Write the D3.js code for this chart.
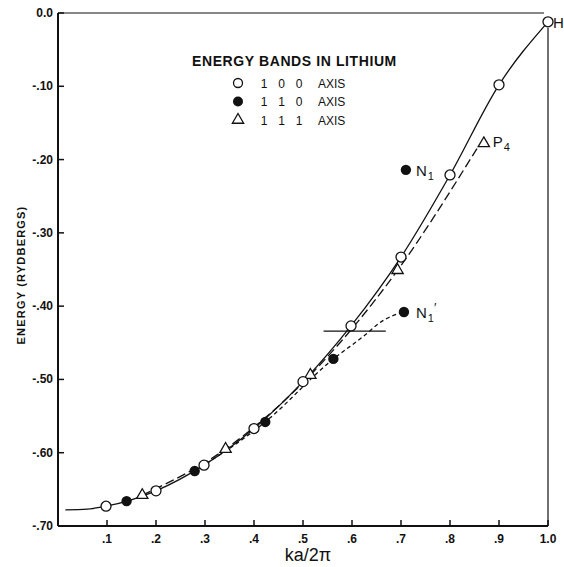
<!DOCTYPE html>
<html>
<head>
<meta charset="utf-8">
<script src="https://cdn.jsdelivr.net/npm/d3@7"></script>
<style>
body { margin: 0; background: #fff; }
text { font-family: "Liberation Sans", Arial, sans-serif; fill: #111; }
</style>
</head>
<body>
<svg width="564" height="567"></svg>
<script>
var width = 564;
var height = 567;

// points (ka/2pi, energy in rydbergs)
var axis100 = [[0.098, -0.673], [0.20, -0.652], [0.298, -0.617], [0.40, -0.567], [0.50, -0.503],
               [0.598, -0.427], [0.70, -0.333], [0.80, -0.221], [0.90, -0.098], [1.0, -0.012]];
var axis110 = [[0.14, -0.666], [0.279, -0.625], [0.423, -0.558], [0.562, -0.472], [0.706, -0.408]];
var axis111 = [[0.172, -0.658], [0.342, -0.595], [0.515, -0.494], [0.693, -0.351], [0.869, -0.178]];
var pointN1 = [[0.71, -0.214]];

// curves drawn through the points
var curve100 = [[0.015, -0.678], [0.06, -0.677], [0.098, -0.673], [0.20, -0.652], [0.298, -0.617],
                [0.40, -0.567], [0.50, -0.503], [0.598, -0.427], [0.70, -0.333], [0.80, -0.221],
                [0.90, -0.098], [1.0, -0.012]];
var curve111 = [[0.172, -0.658], [0.342, -0.595], [0.515, -0.494], [0.693, -0.351], [0.855, -0.185]];
var curve110 = [[0.279, -0.625], [0.423, -0.558], [0.562, -0.472], [0.62, -0.443], [0.665, -0.419], [0.70, -0.409]];

var fermiLine = [[0.542, -0.434], [0.669, -0.434]];

var xTicks = [0.1, 0.2, 0.3, 0.4, 0.5, 0.6, 0.7, 0.8, 0.9, 1.0];
var xTickLabels = [".1", ".2", ".3", ".4", ".5", ".6", ".7", ".8", ".9", "1.0"];
var yTicks = [0, -0.1, -0.2, -0.3, -0.4, -0.5, -0.6, -0.7];
var yTickLabels = ["0.0", "-.10", "-.20", "-.30", "-.40", "-.50", "-.60", "-.70"];

var legendRows = [
    {sym: "open", digits: ["1", "0", "0"]},
    {sym: "filled", digits: ["1", "1", "0"]},
    {sym: "tri", digits: ["1", "1", "1"]}
];

var x = d3.scaleLinear().domain([0, 1]).range([58, 548]);
var y = d3.scaleLinear().domain([-0.70, 0]).range([526, 13]);

var svg = d3.select('svg');

// frame
svg.append('line').attr('x1', x(0)).attr('x2', x(0)).attr('y1', y(0)).attr('y2', y(-0.7))
    .attr('stroke', '#111').attr('stroke-width', 2);
svg.append('line').attr('x1', x(0)).attr('x2', x(1)).attr('y1', y(-0.7)).attr('y2', y(-0.7))
    .attr('stroke', '#111').attr('stroke-width', 2);
svg.append('line').attr('x1', x(0)).attr('x2', x(1) - 4).attr('y1', y(0)).attr('y2', y(0))
    .attr('stroke', '#111').attr('stroke-width', 1.2);
svg.append('line').attr('x1', x(1)).attr('x2', x(1)).attr('y1', y(-0.012) + 6).attr('y2', y(-0.7))
    .attr('stroke', '#111').attr('stroke-width', 1.2);

// ticks
svg.selectAll('.xtick').data(xTicks).enter().append('line')
    .attr('x1', d => x(d)).attr('x2', d => x(d))
    .attr('y1', y(-0.7)).attr('y2', y(-0.7) - 6)
    .attr('stroke', '#111').attr('stroke-width', 1.5);
svg.selectAll('.xlab').data(xTicks).enter().append('text')
    .attr('x', d => x(d)).attr('y', y(-0.7) + 17)
    .attr('text-anchor', 'middle').attr('font-size', 12).attr('font-weight', 'bold')
    .text((d, i) => xTickLabels[i]);

svg.selectAll('.ytick').data(yTicks).enter().append('line')
    .attr('x1', x(0)).attr('x2', x(0) + 6)
    .attr('y1', d => y(d)).attr('y2', d => y(d))
    .attr('stroke', '#111').attr('stroke-width', 1.5);
svg.selectAll('.ylab').data(yTicks).enter().append('text')
    .attr('x', 53).attr('y', d => y(d) + 4)
    .attr('text-anchor', 'end').attr('font-size', 12).attr('font-weight', 'bold')
    .text((d, i) => yTickLabels[i]);

// axis titles
svg.append('text').attr('x', 308).attr('y', 561).attr('text-anchor', 'middle')
    .attr('font-size', 18).text('ka/2π');
svg.append('text').attr('transform', 'translate(25,275) rotate(-90)').attr('text-anchor', 'middle')
    .attr('font-size', 11).attr('font-weight', 'bold').attr('letter-spacing', 1.2)
    .text('ENERGY (RYDBERGS)');

// curves
var line = d3.line().x(d => x(d[0])).y(d => y(d[1])).curve(d3.curveMonotoneX);
svg.append('path').attr('d', line(curve100)).attr('fill', 'none')
    .attr('stroke', '#111').attr('stroke-width', 1.3);
svg.append('path').attr('d', line(curve111)).attr('fill', 'none')
    .attr('stroke', '#111').attr('stroke-width', 1.3).attr('stroke-dasharray', '9,4');
svg.append('path').attr('d', line(curve110)).attr('fill', 'none')
    .attr('stroke', '#111').attr('stroke-width', 1.3).attr('stroke-dasharray', '4,3');
svg.append('path').attr('d', d3.line().x(d => x(d[0])).y(d => y(d[1]))(fermiLine))
    .attr('stroke', '#111').attr('stroke-width', 1.3);

// markers
var triangle = d3.symbol().type(d3.symbolTriangle).size(55);
svg.selectAll('.tri').data(axis111).enter().append('path')
    .attr('d', triangle)
    .attr('transform', d => `translate(${x(d[0])},${y(d[1])})`)
    .attr('fill', '#fff').attr('stroke', '#111').attr('stroke-width', 1.3);
svg.selectAll('.open').data(axis100).enter().append('circle')
    .attr('cx', d => x(d[0])).attr('cy', d => y(d[1])).attr('r', 5)
    .attr('fill', '#fff').attr('stroke', '#111').attr('stroke-width', 1.3);
svg.selectAll('.filled').data(axis110.concat(pointN1)).enter().append('circle')
    .attr('cx', d => x(d[0])).attr('cy', d => y(d[1])).attr('r', 5.2)
    .attr('fill', '#111');

// point labels
function label(px, py, main, sub, prime) {
    var t = svg.append('text').attr('x', px).attr('y', py).attr('font-size', 15);
    t.append('tspan').text(main);
    if (sub) t.append('tspan').attr('font-size', 11).attr('dx', 1).attr('dy', 4).text(sub);
    if (prime) t.append('tspan').attr('font-size', 13).attr('dy', -10).attr('dx', 0).text(prime);
}
label(x(0.71) + 10, y(-0.214) + 6, 'N', '1');
label(x(0.706) + 12, y(-0.408) + 6, 'N', '1', '′');
label(x(0.869) + 9, y(-0.178) + 4, 'P', '4');
label(x(1.0) + 5, y(-0.012) + 6, 'H');

// legend
svg.append('text').attr('x', 192).attr('y', 66).attr('font-size', 14).attr('font-weight', 'bold')
    .attr('letter-spacing', 0.6).text('ENERGY BANDS IN LITHIUM');
var rows = svg.selectAll('.leg').data(legendRows).enter().append('g')
    .attr('transform', (d, i) => `translate(0,${83 + i * 18.5})`);
rows.each(function(d) {
    var g = d3.select(this);
    if (d.sym === 'open') g.append('circle').attr('cx', 238).attr('cy', 0).attr('r', 4.5)
        .attr('fill', '#fff').attr('stroke', '#111').attr('stroke-width', 1.3);
    else if (d.sym === 'filled') g.append('circle').attr('cx', 238).attr('cy', 0).attr('r', 5).attr('fill', '#111');
    else g.append('path').attr('d', triangle).attr('transform', 'translate(238,0)')
        .attr('fill', '#fff').attr('stroke', '#111').attr('stroke-width', 1.3);
    d.digits.forEach(function(c, j) {
        g.append('text').attr('x', 264 + j * 17.5).attr('y', 4.5).attr('text-anchor', 'middle')
            .attr('font-size', 12).text(c);
    });
    g.append('text').attr('x', 318).attr('y', 4.5).attr('font-size', 12).text('AXIS');
});
</script>
</body>
</html>
